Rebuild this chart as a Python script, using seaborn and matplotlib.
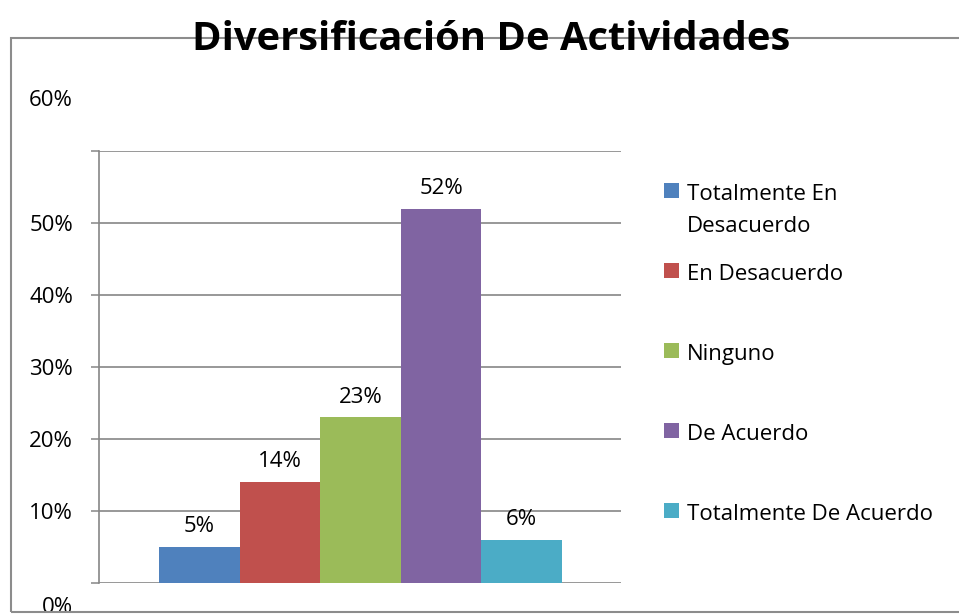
import matplotlib
matplotlib.use("Agg")
import matplotlib.pyplot as plt
import matplotlib.transforms as mtransforms
from matplotlib.patches import Rectangle
import seaborn as sns
import pandas as pd

# datos
categorias = ["Totalmente En Desacuerdo", "En Desacuerdo", "Ninguno", "De Acuerdo", "Totalmente De Acuerdo"]
etiquetas_leyenda = ["Totalmente En\nDesacuerdo", "En Desacuerdo", "Ninguno", "De Acuerdo", "Totalmente De Acuerdo"]
valores = [0.05, 0.14, 0.23, 0.52, 0.06]
colores = ["#4F81BD", "#C0504D", "#9BBB59", "#8064A2", "#4BACC6"]
ticks_y = [0.0, 0.1, 0.2, 0.3, 0.4, 0.5, 0.6]
ticks_texto = ["0%", "10%", "20%", "30%", "40%", "50%", "60%"]
titulo = "Diversificación De Actividades"

sns.set_style("white")
plt.rcParams['font.family'] = ['Open Sans', 'DejaVu Sans']
plt.rcParams['text.color'] = 'black'

df = pd.DataFrame({"categoria": categorias, "valor": valores})
W, H = 959, 614
gris = "#868686"
fs = 16

fig = plt.figure(figsize=(W / 100, H / 100), dpi=100)
ax = fig.add_axes([99 / W, 1 - 583 / H, (621 - 99) / W, (583 - 151) / H])

sns.barplot(data=df, x="categoria", y="valor", hue="categoria", palette=colores,
            saturation=1, width=1.0, legend=False, ax=ax, zorder=3, linewidth=0)

ax.set_xlim(-1.244, 5.233)
ax.set_ylim(0, 0.6)
ax.set_xlabel("")
ax.set_ylabel("")
ax.set_xticks([])
ax.set_yticks(ticks_y)
ax.set_yticklabels(["" if t in ("0%", "60%") else t for t in ticks_texto])
ax.tick_params(axis="y", direction="out", length=5.8, width=1.1, color=gris,
               pad=13, labelsize=fs, left=True, labelcolor="black")
ax.yaxis.grid(True, color=gris, lw=1.2)
ax.set_axisbelow(True)
for s in ["top", "right", "bottom"]:
    ax.spines[s].set_visible(False)
ax.spines["left"].set_color(gris)
ax.spines["left"].set_linewidth(1.2)

# etiquetas 0% y 60% desplazadas como en el original
base = mtransforms.blended_transform_factory(ax.transAxes, ax.transData)
for val, txt, dy in [(0.0, "0%", -22), (0.6, "60%", 53)]:
    tr = base + mtransforms.ScaledTranslation(0, dy / 100, fig.dpi_scale_trans)
    ax.text((73 - 99) / (621 - 99), val, txt, transform=tr, ha="right",
            va="center_baseline", fontsize=fs, clip_on=False)

# etiquetas de datos
for cont, v in zip(ax.containers, valores):
    ax.bar_label(cont, labels=[f"{v:.0%}"], padding=7, fontsize=fs)

# leyenda
for i, (lab, col) in enumerate(zip(etiquetas_leyenda, colores)):
    yc = 190 + 80.2 * i
    fig.add_artist(Rectangle((664 / W, 1 - (yc + 7.5) / H), 15 / W, 15 / H,
                             transform=fig.transFigure, color=col, lw=0))
    for j, linea in enumerate(lab.split("\n")):
        fig.text(687 / W, 1 - (yc + 9.5 + 32 * j) / H, linea, fontsize=fs,
                 va="baseline", ha="left")

# marco del grafico
fig.add_artist(Rectangle((11 / W, 1 - 612 / H), (W + 20 - 11) / W, (612 - 38) / H,
                         transform=fig.transFigure, fill=False, edgecolor="#8c8c8c", lw=1.5))

fig.text(491 / W, 1 - 50 / H, titulo, fontsize=28.7, fontweight="bold",
         ha="center", va="baseline", zorder=5)

fig.savefig("out.png", dpi=100)
